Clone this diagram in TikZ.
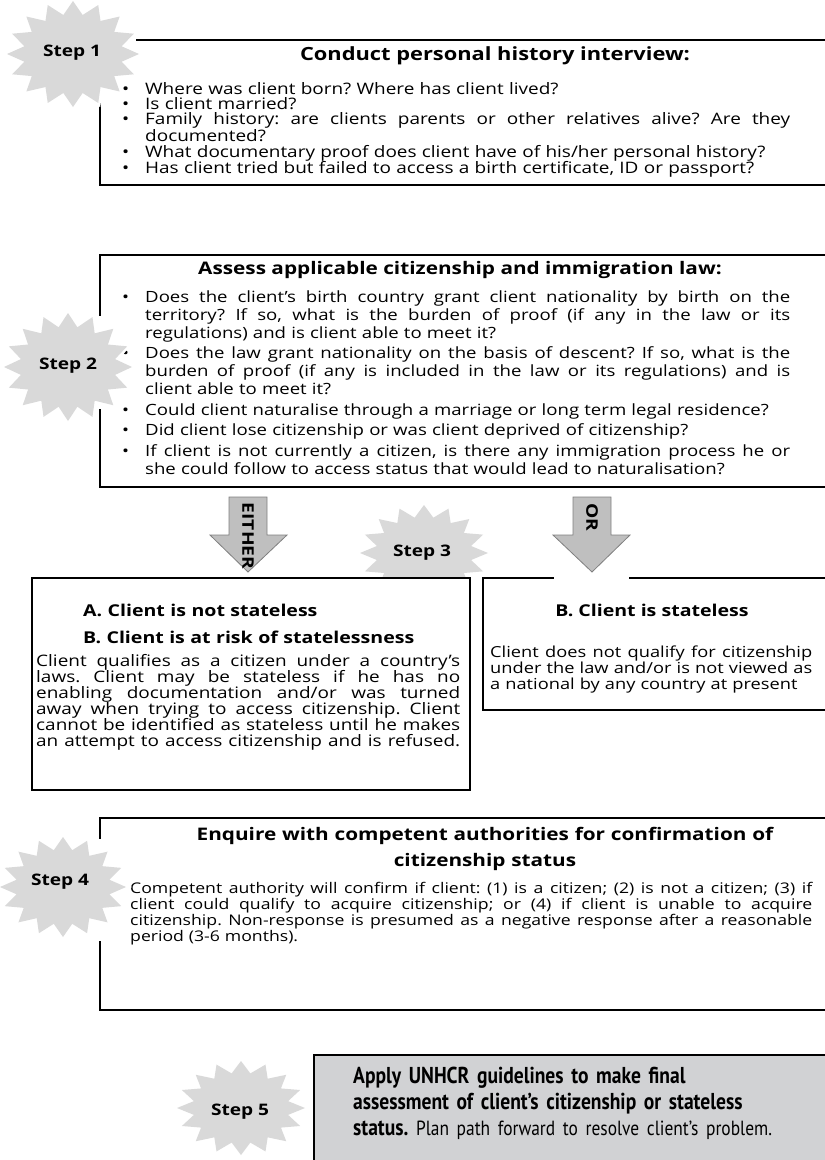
\documentclass[tikz,border=0pt]{standalone}
\usepackage{fontspec}
\setmainfont{Open Sans}[FakeStretch=1.2]
\newfontfamily\condfont{PT Sans}[FakeStretch=0.85]
\frenchspacing
\definecolor{stargray}{HTML}{D9D9D9}
\definecolor{boxgray}{HTML}{D1D2D4}
\definecolor{arrowfill}{HTML}{BFBFBF}
\definecolor{arrowline}{HTML}{7F7F7F}
\newcommand\J[1]{\makebox[\linewidth][s]{\spaceskip=0pt\xspaceskip=0pt #1}}
\newcommand\B{\leavevmode\llap{\textbullet\hskip 16pt}}
\newcommand\fs[2]{\fontsize{#1}{#2}\selectfont}
\newcommand\stepburst[4]{%
  \path[burst] plot[domain=0:32,samples=33,variable=\k]
   ({#1+#3*(0.875+0.125*cos(180*\k))*cos(11.25*\k)},{#2+#4*(0.875+0.125*cos(180*\k))*sin(11.25*\k)}) -- cycle;}
\tikzset{
  frame/.style={line width=2.2pt, line cap=rect},
  burst/.style={fill=stargray, preaction={draw=white, line width=5pt}},
  steplbl/.style={font=\bfseries\fs{15.9}{18}, inner sep=0pt},
  title/.style={font=\bfseries\fs{17.3}{26}, inner sep=0pt, align=center, anchor=base},
  body/.style={inner sep=0pt, align=left, anchor=base west},
  arrowshape/.style={fill=arrowfill, draw=arrowline, line width=0.8pt},
  arrowlbl/.style={font=\bfseries\fs{16}{16}, rotate=-90, inner sep=0pt},
}
\begin{document}
\begin{tikzpicture}[x=1pt,y=-1pt]
\useasboundingbox (0,0) rectangle (825,1160);

% ---------- Box 1
\draw[frame] (137,40) -- (825,40);
\draw[frame] (100,97) -- (100,185) -- (825,185);
\node[title, font=\bfseries\fs{18.2}{26}] (t1) at (495,60) {Conduct personal history interview:};
\node[body, text width=645, font=\fs{15.8}{15.4}] (b1) at (145,94) {%
\B Where was client born? Where has client lived?\\
\B Is client married?\\
\B\J{Family history: are clients parents or other relatives alive? Are they}\\
documented?\\
\B What documentary proof does client have of his/her personal history?\\
\B Has client tried but failed to access a birth certificate, ID or passport?};

% ---------- Box 2
\draw[frame] (100,315) -- (100,255) -- (825,255);
\draw[frame] (100,410) -- (100,487) -- (825,487);
\node[title] (t2) at (460,274) {Assess applicable citizenship and immigration law:};
\node[body, text width=645, font=\fs{15.5}{18}] (b2) at (145,302) {%
\B\J{Does the client’s birth country grant client nationality by birth on the}\\
\J{territory? If so, what is the burden of proof (if any in the law or its}\\
regulations) and is client able to meet it?\\[2.5pt]
\B\J{Does the law grant nationality on the basis of descent? If so, what is the}\\
\J{burden of proof (if any is included in the law or its regulations) and is}\\
client able to meet it?\\[2.5pt]
\B Could client naturalise through a marriage or long term legal residence?\\[2.5pt]
\B Did client lose citizenship or was client deprived of citizenship?\\[2.5pt]
\B\J{If client is not currently a citizen, is there any immigration process he or}\\
she could follow to access status that would lead to naturalisation?};

% ---------- Step 3 star (behind boxes A and B)
\stepburst{424}{553}{64}{48}
\node[steplbl] (s3) at (422,553) {Step 3};

% ---------- Arrows
\draw[arrowshape] (229,497) -- (267,497) -- (267,535) -- (287,535) -- (248,572) -- (210,535) -- (229,535) -- cycle;
\node[arrowlbl] (either) at (248,536) {EITHER};
\draw[arrowshape] (573,497) -- (611,497) -- (611,535) -- (630,535) -- (592,572) -- (553,535) -- (573,535) -- cycle;
\node[arrowlbl] (or) at (592,517) {OR};

% ---------- Box A
\draw[frame, fill=white] (32,578) rectangle (470,790);
\node[body, text width=380, font=\bfseries\fs{16.3}{27}] (ta) at (83,616) {A. Client is not stateless\\B. Client is at risk of statelessness};
\node[body, text width=424, font=\fs{15.8}{16}] (ba) at (36,666) {%
\J{Client qualifies as a citizen under a country’s}\\
\J{laws. Client may be stateless if he has no}\\
\J{enabling documentation and/or was turned}\\
\J{away when trying to access citizenship. Client}\\
\J{cannot be identified as stateless until he makes}\\
\J{an attempt to access citizenship and is refused.}};

% ---------- Box B
\fill[white] (483,578) rectangle (825,710);
\draw[frame] (553,578) -- (483,578) -- (483,710) -- (825,710);
\draw[frame] (630,578) -- (825,578);
\node[font=\bfseries\fs{16.3}{20}, inner sep=0pt, anchor=base] (tb) at (652,616) {B. Client is stateless};
\node[body, text width=322, font=\fs{15.2}{16}] (bb) at (490,657) {%
\J{Client does not qualify for citizenship}\\
\J{under the law and/or is not viewed as}\\
a national by any country at present};

% ---------- Box 4
\draw[frame] (100,838) -- (100,818) -- (825,818);
\draw[frame] (100,942) -- (100,1010) -- (825,1010);
\node[title, text width=660] (t4) at (485,840) {Enquire with competent authorities for confirmation of\\citizenship status};
\node[body, text width=682, font=\fs{14.7}{16}] (b4) at (130,893) {%
\J{Competent authority will confirm if client: (1) is a citizen; (2) is not a citizen; (3) if}\\
\J{client could qualify to acquire citizenship; or (4) if client is unable to acquire}\\
\J{citizenship. Non-response is presumed as a negative response after a reasonable}\\
period (3-6 months).};

% ---------- Box 5
\fill[boxgray] (314,1055) rectangle (825,1160);
\draw[frame] (825,1055) -- (314,1055) -- (314,1160);
\node[body, text width=480, font=\condfont\fs{23}{26}] (t5) at (353,1083) {%
\bfseries Apply UNHCR guidelines to make final\\
assessment of client’s citizenship or stateless\\
status.\mdseries\fs{20.5}{26} Plan path forward to resolve client’s problem.};

% ---------- Step stars
\stepburst{73}{54}{66}{53}
\node[steplbl] (s1) at (72,53) {Step 1};
\stepburst{68}{367}{64}{54}
\node[steplbl] (s2) at (68,366) {Step 2};
\stepburst{63}{887}{63}{50}
\node[steplbl] (s4) at (60,882) {Step 4};
\stepburst{241}{1108}{64}{47}
\node[steplbl] (s5) at (240,1112) {Step 5};
\end{tikzpicture}
\end{document}
